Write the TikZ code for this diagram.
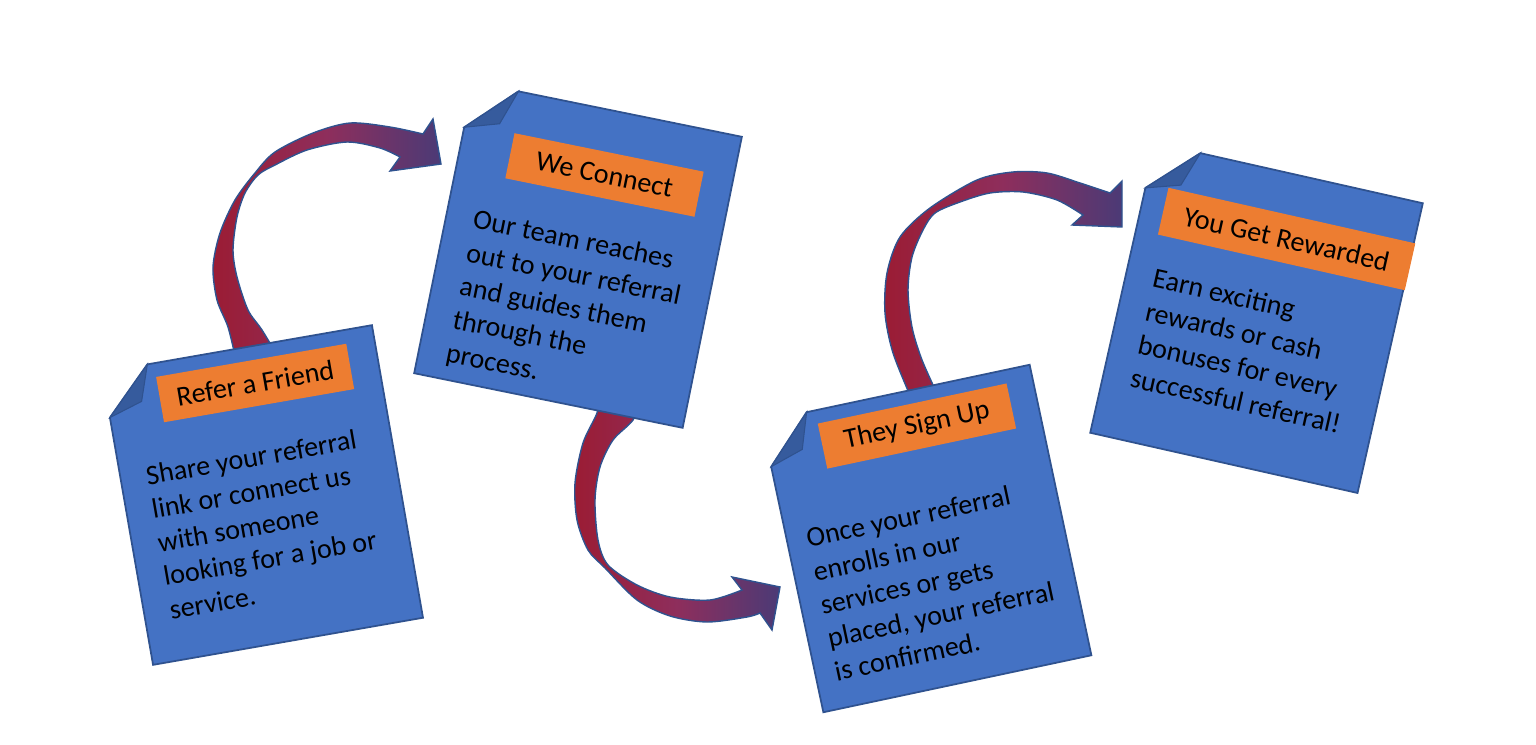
\documentclass[tikz,border=0pt]{standalone}
\usepackage{fontspec}
\setmainfont{Carlito}
\definecolor{cardblue}{HTML}{4472C4}
\definecolor{cardedge}{HTML}{2F528F}
\definecolor{cardfold}{HTML}{365B9D}
\definecolor{tagorange}{HTML}{ED7D31}
\definecolor{arrowred}{HTML}{9B1C34}
\definecolor{arrowmid}{HTML}{8E2E5C}
\definecolor{arrowpurple}{HTML}{4B3A76}

\begin{document}
\begin{tikzpicture}[
    card/.style={fill=cardblue, draw=cardedge, line width=0.5pt},
    fold/.style={fill=cardfold, draw=cardedge, line width=0.3pt},
    tag/.style={fill=tagorange, inner sep=0pt, minimum height=0.46cm, transform shape, font=\fontsize{8}{9.7}\selectfont},
    body/.style={align=left, anchor=base west, inner sep=0pt, transform shape, font=\fontsize{8}{9.7}\selectfont},
    band/.style={left color=arrowred, right color=arrowpurple, middle color=arrowmid, draw=cardedge, line width=0.4pt}
  ]
    \useasboundingbox (0,0) rectangle (15.36,7.44);

    \shadedraw[band] plot[smooth] coordinates {(2.36,3.84) (2.28,4.17) (2.17,4.44) (2.13,4.77) (2.20,5.11) (2.35,5.44) (2.55,5.71) (2.75,5.92) (3.13,6.11) (3.50,6.21) (3.90,6.17) (4.23,6.10)}
      -- (4.33,6.25) -- (4.41,5.80) -- (3.90,5.73)
      -- plot[smooth] coordinates {(4.00,5.87) (3.80,5.96) (3.47,6.02) (3.07,5.94) (2.75,5.79) (2.58,5.69) (2.45,5.51) (2.37,5.27) (2.33,4.94) (2.37,4.67) (2.48,4.34) (2.62,4.14) (2.80,3.84)} -- cycle;

    \shadedraw[band] plot[smooth] coordinates {(5.98,3.46) (5.97,3.31) (5.83,3.01) (5.75,2.61) (5.77,2.24) (5.88,1.94) (6.05,1.76) (6.37,1.44) (6.70,1.28) (7.07,1.22) (7.47,1.27) (7.60,1.31)}
      -- (7.72,1.14) -- (7.80,1.57) -- (7.32,1.67)
      -- plot[smooth] coordinates {(7.42,1.54) (7.10,1.44) (6.70,1.47) (6.37,1.59) (6.08,1.79) (5.98,2.04) (5.95,2.44) (6.00,2.77) (6.13,3.04) (6.33,3.24) (6.40,3.44)} -- cycle;

    \shadedraw[band] plot[smooth] coordinates {(9.12,3.44) (8.93,3.91) (8.85,4.31) (8.87,4.71) (9.00,5.07) (9.30,5.36) (9.77,5.64) (10.13,5.72) (10.47,5.71) (10.80,5.61) (11.10,5.51)}
      -- (11.22,5.63) -- (11.22,5.17) -- (10.72,5.19)
      -- plot[smooth] coordinates {(10.83,5.29) (10.57,5.44) (10.23,5.52) (9.90,5.51) (9.60,5.42) (9.35,5.31) (9.23,5.14) (9.12,4.87) (9.08,4.54) (9.12,4.17) (9.22,3.84) (9.40,3.44)} -- cycle;

    \begin{scope}[shift={(2.625,2.49)}, rotate=9.9]
      \draw[card] (-0.91,1.485) -- (1.37,1.485) -- (1.37,-1.485) -- (-1.37,-1.485) -- (-1.37,1.025) -- cycle;
      \draw[fold] (-0.91,1.485) -- (-1.37,1.025) -- (-1.03,1.13) -- cycle;
      \node[tag, minimum width=1.93cm] (refer) at (0.12,1.116) {Refer a Friend};
      \node[body] (refer-text) at (-1.12,-1.07) {Share your referral\\link or connect us\\with someone\\looking for a job or\\service.};
    \end{scope}

    \begin{scope}[shift={(5.78,4.89)}, rotate=-11.5]
      \draw[card] (-0.91,1.485) -- (1.37,1.485) -- (1.37,-1.485) -- (-1.37,-1.485) -- (-1.37,1.025) -- cycle;
      \draw[fold] (-0.91,1.485) -- (-1.37,1.025) -- (-1.03,1.13) -- cycle;
      \node[tag, minimum width=1.93cm] (connect) at (0.10,0.837) {We Connect};
      \node[body] (connect-text) at (-1.10,-1.31) {Our team reaches\\out to your referral\\and guides them\\through the\\process.};
    \end{scope}

    \begin{scope}[shift={(9.265,2.055)}, rotate=12]
      \draw[card] (-0.91,1.485) -- (1.37,1.485) -- (1.37,-1.485) -- (-1.37,-1.485) -- (-1.37,1.025) -- cycle;
      \draw[fold] (-0.91,1.485) -- (-1.37,1.025) -- (-1.03,1.13) -- cycle;
      \node[tag, minimum width=1.93cm] (signup) at (0.14,1.12) {They Sign Up};
      \node[body] (signup-text) at (-1.18,-1.21) {Once your referral\\enrolls in our\\services or gets\\placed, your referral\\is confirmed.};
    \end{scope}

    \begin{scope}[shift={(12.565,4.26)}, rotate=-12.7]
      \draw[card] (-0.91,1.485) -- (1.37,1.485) -- (1.37,-1.485) -- (-1.37,-1.485) -- (-1.37,1.025) -- cycle;
      \draw[fold] (-0.91,1.485) -- (-1.37,1.025) -- (-1.03,1.13) -- cycle;
      \node[tag, minimum width=2.53cm, minimum height=0.48cm] (reward) at (0.12,0.837) {You Get Rewarded};
      \node[body] (reward-text) at (-1.10,-0.95) {Earn exciting\\rewards or cash\\bonuses for every\\successful referral!};
    \end{scope}
  \end{tikzpicture}
\end{document}
